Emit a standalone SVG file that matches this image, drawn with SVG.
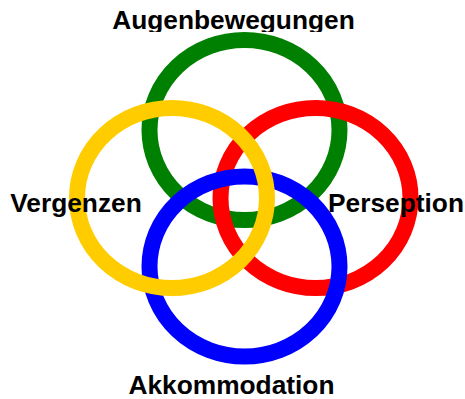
<svg xmlns="http://www.w3.org/2000/svg" width="465" height="399" viewBox="0 0 465 399">
<style>
.ring{fill:none;stroke-width:16}
.lbl{font-family:"Liberation Sans",Arial,sans-serif;font-weight:bold;font-size:26.3px;fill:#000;text-anchor:middle}
</style>
<defs>
<clipPath id="topclip"><rect x="0" y="0" width="465" height="32"/></clipPath>
</defs>
<rect width="465" height="399" fill="#fff"/>
<g id="connectors"></g>
<g id="augenbewegungen">
<ellipse class="ring" cx="244.5" cy="130" rx="95" ry="90" stroke="#008000"/>
<text class="lbl" x="233.5" y="29" clip-path="url(#topclip)">Augenbewegungen</text>
</g>
<g id="perseption">
<ellipse class="ring" cx="315.5" cy="198" rx="95" ry="90" stroke="#ff0000"/>
<text class="lbl" x="396" y="212">Perseption</text>
</g>
<g id="akkommodation">
<ellipse class="ring" cx="244.5" cy="266.5" rx="95" ry="90" stroke="#0000ff"/>
<text class="lbl" x="231.5" y="394">Akkommodation</text>
</g>
<g id="vergenzen">
<ellipse class="ring" cx="172" cy="198" rx="95" ry="90" stroke="#ffcc00"/>
<text class="lbl" x="76" y="212">Vergenzen</text>
</g>
</svg>
